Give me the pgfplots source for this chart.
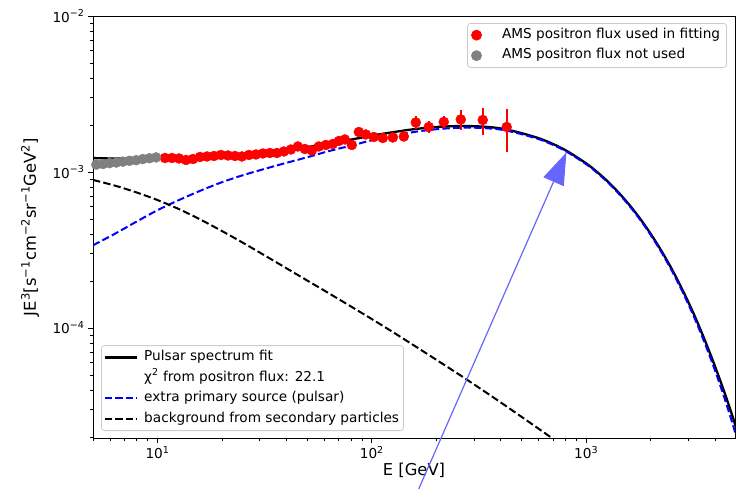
\documentclass[border=0pt]{standalone}
\usepackage{fontspec}
\setmainfont{DejaVu Sans}
\usepackage{pgfplots}
\usepackage{pgfplotstable}
\pgfplotsset{compat=1.18}
\usetikzlibrary{arrows.meta}
\definecolor{arrowblue}{RGB}{102,102,255}
\definecolor{legframe}{RGB}{204,204,204}
\definecolor{mplgray}{RGB}{128,128,128}

\pgfplotstableread{
E val
5.0 3.388e-4
6.31 4.009e-4
7.94 4.786e-4
10 5.689e-4
12.59 6.607e-4
15.85 7.586e-4
19.95 8.590e-4
25.12 9.550e-4
31.62 1.0471e-3
39.81 1.1429e-3
50.12 1.2445e-3
63.10 1.3614e-3
79.43 1.4723e-3
100 1.5959e-3
125.9 1.7061e-3
158.5 1.8072e-3
199.5 1.8793e-3
251.2 1.9187e-3
316.2 1.9187e-3
398.1 1.8707e-3
501.2 1.7458e-3
631.0 1.5850e-3
794.3 1.3709e-3
1000 1.1220e-3
1122 9.913e-4
1259 8.610e-4
1413 7.321e-4
1585 6.109e-4
1778 4.990e-4
1995 3.972e-4
2239 3.083e-4
2512 2.328e-4
2818 1.704e-4
3162 1.208e-4
3548 8.235e-5
3981 5.408e-5
4467 3.404e-5
5012 2.042e-5
}\bluetab

\pgfplotstableread{
E val
5.0 8.892e-4
6.31 8.185e-4
7.94 7.413e-4
10 6.607e-4
12.59 5.781e-4
15.85 4.955e-4
19.95 4.188e-4
25.12 3.508e-4
31.62 2.917e-4
39.81 2.421e-4
50.12 2.009e-4
63.10 1.667e-4
79.43 1.380e-4
100 1.140e-4
125.9 9.376e-5
158.5 7.674e-5
199.5 6.266e-5
251.2 5.105e-5
316.2 4.140e-5
398.1 3.342e-5
501.2 2.685e-5
631.0 2.153e-5
794.3 1.722e-5
1000 1.374e-5
}\bgtab

\pgfplotstableread{
E val
5.0 1.2280e-3
6.31 1.2194e-3
7.94 1.2199e-3
10 1.2296e-3
12.59 1.2388e-3
15.85 1.2541e-3
19.95 1.2778e-3
25.12 1.3058e-3
31.62 1.3388e-3
39.81 1.3850e-3
50.12 1.4454e-3
63.10 1.5281e-3
79.43 1.6103e-3
100 1.7099e-3
125.9 1.7999e-3
158.5 1.8839e-3
199.5 1.9420e-3
251.2 1.9698e-3
316.2 1.9601e-3
398.1 1.9041e-3
501.2 1.7727e-3
631.0 1.6065e-3
794.3 1.3881e-3
1000 1.1357e-3
1122 1.0030e-3
1259 8.715e-4
1413 7.414e-4
1585 6.192e-4
1778 5.064e-4
1995 4.038e-4
2239 3.142e-4
2512 2.380e-4
2818 1.751e-4
3162 1.250e-4
3548 8.605e-5
3981 5.738e-5
4467 3.704e-5
5012 2.302e-5
}\totaltab

\pgfplotstableread{
E val
5.18 1.115e-3
5.57 1.125e-3
5.98 1.140e-3
6.42 1.150e-3
6.89 1.165e-3
7.40 1.180e-3
7.95 1.190e-3
8.54 1.210e-3
9.17 1.225e-3
9.85 1.240e-3
}\graytab

\pgfplotstableread{
E val err
10.84 1.2295e-3 1.5e-5
11.68 1.2295e-3 1.5e-5
12.60 1.2205e-3 1.5e-5
13.58 1.1938e-3 1.5e-5
14.64 1.2115e-3 1.5e-5
15.78 1.2479e-3 1.5e-5
17.02 1.2571e-3 1.5e-5
18.34 1.2664e-3 1.5e-5
19.77 1.2852e-3 1.5e-5
21.32 1.2758e-3 1.5e-5
22.98 1.2664e-3 1.5e-5
24.77 1.2571e-3 1.5e-5
26.71 1.2852e-3 1.5e-5
28.79 1.2947e-3 1.5e-5
31.03 1.3140e-3 2.5e-5
33.46 1.3237e-3 2.5e-5
36.07 1.3237e-3 2.5e-5
38.88 1.3534e-3 2.5e-5
41.92 1.3940e-3 2.5e-5
45.19 1.4571e-3 3.0e-5
48.71 1.4043e-3 3.0e-5
52.52 1.3736e-3 3.0e-5
56.61 1.4571e-3 3.5e-5
61.03 1.4898e-3 3.5e-5
65.79 1.5120e-3 4.0e-5
70.19 1.5804e-3 4.5e-5
74.84 1.6158e-3 5.0e-5
80.67 1.4898e-3 6.0e-5
86.98 1.8047e-3 7.0e-5
93.76 1.7393e-3 7.0e-5
102.2 1.6762e-3 8.0e-5
112.5 1.6516e-3 9.0e-5
125.3 1.6638e-3 1.0e-4
141.0 1.6886e-3 1.2e-4
160.4 2.0771e-3 2.0e-4
184.4 1.9430e-3 1.7e-4
216.6 2.0925e-3 1.9e-4
260.0 2.1711e-3 3.2e-4
329.3 2.1544e-3 4.2e-4
426.0 1.9430e-3 6.0e-4
}\redtab

\begin{document}
\begin{tikzpicture}
\pgfplotsset{
  every axis/.append style={
    xmode=log, ymode=log,
    scale only axis, width=642bp, height=422bp,
    xmin=5, xmax=4950, ymin=1.97e-5, ymax=1e-2,
    xtick={10,100,1000},
    xticklabels={10\textsuperscript{1},10\textsuperscript{2},10\textsuperscript{3}},
    minor xtick={5,6,7,8,9,20,30,40,50,60,70,80,90,200,300,400,500,600,700,800,900,2000,3000,4000},
    ytick={1e-4,1e-3,1e-2},
    yticklabels={10\textsuperscript{−4},10\textsuperscript{−3},10\textsuperscript{−2}},
    minor ytick={2e-5,3e-5,4e-5,5e-5,6e-5,7e-5,8e-5,9e-5,2e-4,3e-4,4e-4,5e-4,6e-4,7e-4,8e-4,9e-4,2e-3,3e-3,4e-3,5e-3,6e-3,7e-3,8e-3,9e-3},
    tick align=outside, tick pos=left,
    major tick length=5bp, minor tick length=3bp,
    tick style={black, line width=0.8bp},
    axis line style={line width=0.9bp},
    tick label style={font=\fontsize{13.7}{16}\selectfont},
    legend cell align=left,
    legend style={
      font=\fontsize{13.7}{16}\selectfont,
      draw=legframe, fill=white, rounded corners=3bp, line width=0.8bp,
      inner xsep=2bp, inner ysep=1.5bp, column sep=4bp,
      nodes={inner xsep=2.5bp, inner ysep=3.5bp, text height=10bp, text depth=3.5bp},
    },
  },
  legend image code/.code={\draw[mark repeat=2,mark phase=2,#1] plot coordinates {(0bp,0bp) (16bp,0bp) (32bp,0bp)};},
}
\begin{axis}[
  xlabel={E [GeV]},
  ylabel={JE\textsuperscript{3}[s\textsuperscript{−1}cm\textsuperscript{−2}sr\textsuperscript{−1}GeV\textsuperscript{2}]},
  every axis x label/.style={at={(axis description cs:0.5,-0.076)}, anchor=center, font=\fontsize{16.4}{19}\selectfont},
  every axis y label/.style={at={(axis description cs:-0.098,0.5)}, anchor=center, rotate=90, font=\fontsize{16.4}{19}\selectfont},
  legend style={at={(axis description cs:0.0125,0.0166)}, anchor=south west},
]
\addplot[black, line width=2.3bp, smooth, no markers] table[x=E,y=val] {\totaltab};
\addlegendentry{Pulsar spectrum fit}
\addlegendimage{empty legend}
\addlegendentry{χ\textsuperscript{2} from positron flux: 22.1}
\addplot[blue, line width=2bp, dash pattern=on 7.4bp off 3.2bp, smooth, no markers] table[x=E,y=val] {\bluetab};
\addlegendentry{extra primary source (pulsar)}
\addplot[black, line width=2bp, dash pattern=on 7.4bp off 3.2bp, smooth, no markers] table[x=E,y=val] {\bgtab};
\addlegendentry{background from secondary particles}
\end{axis}
\begin{axis}[hide axis, clip=false,
  legend style={at={(axis description cs:0.9875,0.9834)}, anchor=north east,
    inner xsep=4bp, column sep=18bp},
]
\addplot[only marks, mark=*, mark size=5bp, red, mark options={draw=red, fill=red},
  error bars/.cd, y dir=both, y explicit, error mark=none,
  error bar style={line width=1.6bp, red}]
  table[x=E, y=val, y error=err] {\redtab};
\addlegendentry{AMS positron flux used in fitting}
\addplot[only marks, mark=*, mark size=5bp, mplgray, mark options={draw=mplgray, fill=mplgray}]
  table[x=E, y=val] {\graytab};
\addlegendentry{AMS positron flux not used}
\draw[arrowblue, line width=1.2bp, -{Triangle[length=32bp,width=22bp]}] (axis cs:150.7,6.92e-6) -- (axis cs:809,1.335e-3);
\end{axis}
\pgfresetboundingbox
\path ([xshift=-93bp, yshift=-51bp]current axis.south west) rectangle ([xshift=2bp, yshift=16bp]current axis.north east);
\end{tikzpicture}
\end{document}
